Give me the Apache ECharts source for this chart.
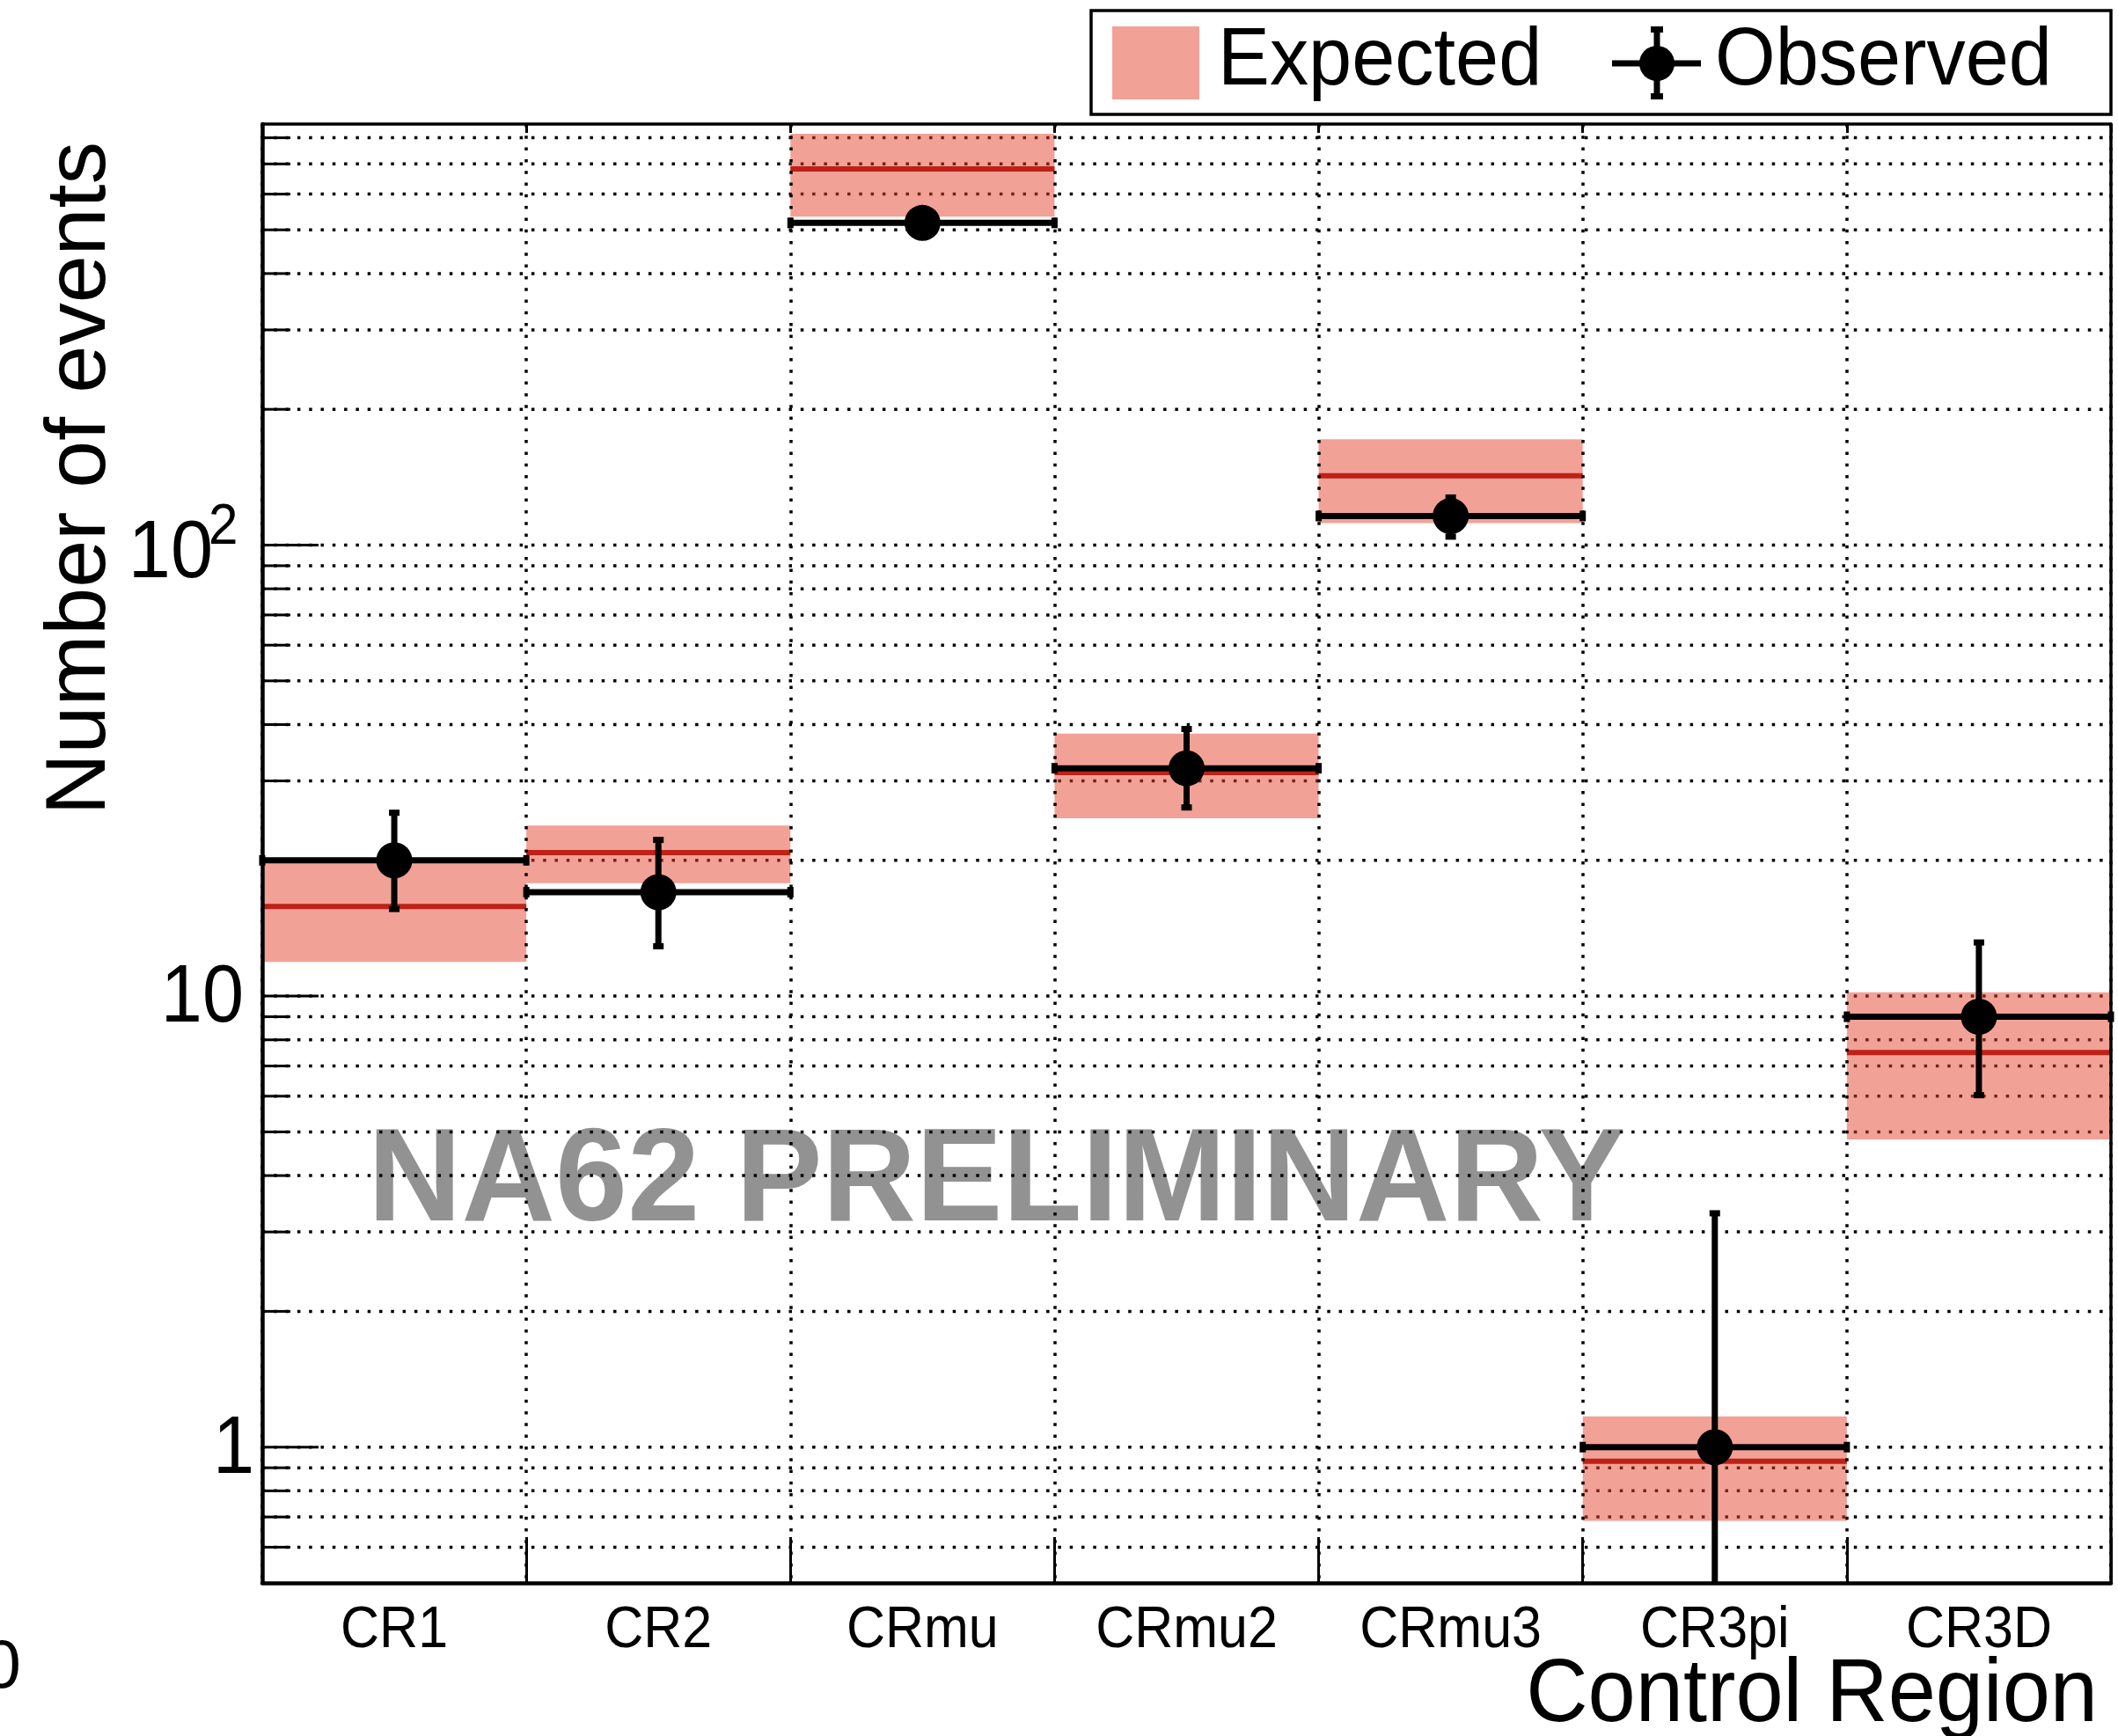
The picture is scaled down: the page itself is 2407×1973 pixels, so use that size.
<!DOCTYPE html>
<html>
<head>
<meta charset="utf-8">
<title>Control regions: expected vs observed</title>
<script src="https://cdn.jsdelivr.net/npm/echarts@6/dist/echarts.min.js"></script>
<style>
  html, body { margin: 0; padding: 0; background: #ffffff; }
  #chart { width: 2407px; height: 1973px; }
</style>
</head>
<body>
<div id="chart"></div>
<script>
// ---- data ----
const categories = ['CR1', 'CR2', 'CRmu', 'CRmu2', 'CRmu3', 'CR3pi', 'CR3D'];

// expected yield (central value) and its uncertainty band
const expected     = [15.8, 20.8, 682, 31.3, 142.5, 0.93, 7.5];
const expectedLow  = [11.9, 17.8, 535, 24.8, 111.9, 0.686, 4.81];
const expectedHigh = [20.1, 23.9, 817, 38.2, 171.7, 1.17, 10.2];

// observed counts with their (Poisson) error bars
const observed     = [20, 17, 518, 32, 116, 1, 9];
const observedLow  = [15.6, 12.9, 496, 26.2, 104.4, 0.17, 6.03];
const observedHigh = [25.5, 22.2, 541, 39.1, 127.5, 3.3, 13.15];

// log-axis range, grid lines and labelled decades
const yMin = 0.5;
const yMax = 858;
const yGridValues = [0.6, 0.7, 0.8, 0.9, 1, 2, 3, 4, 5, 6, 7, 8, 9,
                     10, 20, 30, 40, 50, 60, 70, 80, 90,
                     100, 200, 300, 400, 500, 600, 700, 800];
const yMajorValues = [1, 10, 100];
const yLabelBase = ['1', '10', '10'];
const yLabelExp  = ['', '', '2'];

// ---- styling ----
const FONT = '"Liberation Sans", Arial, Helvetica, sans-serif';
const BAND_FILL = 'rgba(229,67,47,0.5)';
const LINE_RED = 'rgb(190,33,22)';
const DOT = [3.5, 9.8];

const chart = echarts.init(document.getElementById('chart'), null, {
  renderer: 'canvas', width: 2407, height: 1973
});

function txt(opts) {
  // plain text element; align/verticalAlign given in both naming styles
  return {
    type: 'text',
    x: opts.x, y: opts.y,
    scaleX: opts.scaleX || 1,
    rotation: opts.rotation || 0,
    z: opts.z === undefined ? 5 : opts.z,
    silent: true,
    style: {
      text: opts.text,
      fill: opts.fill || '#000',
      fontFamily: FONT,
      fontSize: opts.size,
      fontWeight: opts.weight || 'normal',
      align: opts.align || 'left',
      textAlign: opts.align || 'left',
      verticalAlign: 'middle',
      textVerticalAlign: 'middle'
    }
  };
}

// horizontal dotted grid lines plus left-side ticks
function renderGrid(params, api) {
  const cs = params.coordSys;
  const v = api.value(1);
  const y = api.coord([0, v])[1];
  const major = yMajorValues.indexOf(v) >= 0;
  return {
    type: 'group',
    children: [
      { type: 'line', shape: { x1: cs.x, y1: y, x2: cs.x + cs.width, y2: y },
        style: { stroke: '#000', lineWidth: 3.5, lineDash: DOT } },
      { type: 'line', shape: { x1: cs.x, y1: y, x2: cs.x + (major ? 64 : 32), y2: y },
        style: { stroke: '#000', lineWidth: 3 } }
    ]
  };
}

// expected band with its central line
function renderBand(params, api) {
  const cs = params.coordSys;
  const bw = cs.width / categories.length;
  const i = api.value(0);
  const pc = api.coord([i, api.value(1)]);
  const yHi = api.coord([i, api.value(2)])[1];
  const yLo = api.coord([i, api.value(3)])[1];
  const x0 = pc[0] - bw / 2, x1 = pc[0] + bw / 2;
  return {
    type: 'group',
    children: [
      { type: 'rect', shape: { x: x0, y: yHi, width: bw, height: yLo - yHi },
        style: { fill: BAND_FILL } },
      { type: 'line', shape: { x1: x0, y1: pc[1], x2: x1, y2: pc[1] },
        style: { stroke: LINE_RED, lineWidth: 6 } }
    ]
  };
}

// observed point: bin-wide horizontal bar, vertical error bar, marker
function renderObserved(params, api) {
  const cs = params.coordSys;
  const bw = cs.width / categories.length;
  const i = api.value(0);
  const p = api.coord([i, api.value(1)]);
  const yUp = api.coord([i, api.value(2)])[1];
  let yDn = api.coord([i, api.value(3)])[1];
  const bottom = cs.y + cs.height;
  const clipped = yDn > bottom;
  if (clipped) yDn = bottom;
  const x0 = p[0] - bw / 2, x1 = p[0] + bw / 2;
  const kids = [
    { type: 'line', shape: { x1: x0, y1: p[1], x2: x1, y2: p[1] },
      style: { stroke: '#000', lineWidth: 7 } },
    { type: 'rect', shape: { x: x0 - 3.5, y: p[1] - 6, width: 7, height: 12 }, style: { fill: '#000' } },
    { type: 'rect', shape: { x: x1 - 3.5, y: p[1] - 6, width: 7, height: 12 }, style: { fill: '#000' } },
    { type: 'line', shape: { x1: p[0], y1: yUp, x2: p[0], y2: yDn },
      style: { stroke: '#000', lineWidth: 7 } },
    { type: 'rect', shape: { x: p[0] - 6, y: yUp - 3.5, width: 12, height: 7 }, style: { fill: '#000' } }
  ];
  if (!clipped) {
    kids.push({ type: 'rect', shape: { x: p[0] - 6, y: yDn - 3.5, width: 12, height: 7 }, style: { fill: '#000' } });
  }
  kids.push({ type: 'circle', shape: { cx: p[0], cy: p[1], r: 20.5 }, style: { fill: '#000' } });
  return { type: 'group', children: kids };
}

// category names under each bin
function renderXLabel(params, api) {
  const cs = params.coordSys;
  const i = api.value(0);
  const x = api.coord([i, 1])[0];
  return txt({ text: categories[i], x: x, y: cs.y + cs.height + 55, size: 67, scaleX: 0.91, align: 'center' });
}

// decade labels on the log axis
function renderYLabel(params, api) {
  const cs = params.coordSys;
  const k = params.dataIndex;
  const y = api.coord([0, api.value(1)])[1];
  const base = yLabelBase[k], exp = yLabelExp[k];
  if (exp) {
    return {
      type: 'group',
      children: [
        txt({ text: base, x: cs.x - 56, y: y + 11.5, size: 92, scaleX: 0.94, align: 'right' }),
        txt({ text: exp, x: cs.x - 61, y: y - 19.5, size: 64, scaleX: 0.94, align: 'left' })
      ]
    };
  }
  const pad = base === '1' ? 12 : 0;
  return txt({ text: base, x: cs.x - 21 + pad, y: y + 4, size: 92, scaleX: 0.92, align: 'right' });
}

const hiddenAxisBits = {
  axisLabel: { show: false },
  splitLine: { show: false },
  minorTick: { show: false },
  minorSplitLine: { show: false }
};

const option = {
  backgroundColor: '#ffffff',
  animation: false,
  tooltip: { show: false },
  grid: {
    left: 298, top: 141, right: 8, bottom: 174,
    show: false, containLabel: false, outerBoundsMode: 'none'
  },
  xAxis: [
    {
      type: 'category', data: categories, position: 'bottom', boundaryGap: true, z: 3,
      axisLine: { show: true, onZero: false, lineStyle: { color: '#000', width: 4.5 } },
      axisTick: { show: true, inside: true, length: 52, interval: 0, alignWithLabel: false,
                  lineStyle: { color: '#000', width: 3 } },
      axisLabel: { show: false },
      splitLine: { show: true, interval: 0, lineStyle: { color: '#000', width: 3.5, type: DOT } }
    },
    {
      type: 'category', data: categories, position: 'top', boundaryGap: true, z: 3,
      axisLine: { show: true, onZero: false, lineStyle: { color: '#000', width: 3.5 } },
      axisTick: { show: true, inside: true, length: 10, interval: 0, alignWithLabel: false,
                  lineStyle: { color: '#000', width: 3 } },
      axisLabel: { show: false },
      splitLine: { show: false }
    }
  ],
  yAxis: [
    Object.assign({
      type: 'log', logBase: 10, min: yMin, max: yMax, position: 'left', z: 3,
      axisLine: { show: true, onZero: false, lineStyle: { color: '#000', width: 4.5 } },
      axisTick: { show: false }
    }, hiddenAxisBits),
    Object.assign({
      type: 'log', logBase: 10, min: yMin, max: yMax, position: 'right', z: 3,
      axisLine: { show: true, onZero: false, lineStyle: { color: '#000', width: 3.5 } },
      axisTick: { show: false }
    }, hiddenAxisBits)
  ],
  graphic: {
    elements: [
      // watermark, behind the grid
      txt({ text: 'NA62 PRELIMINARY', x: 418, y: 1345, size: 151, weight: 'bold',
            scaleX: 0.977, fill: 'rgb(146,146,146)', z: 0 }),
      // axis titles
      txt({ text: 'Number of events', x: 92, y: 161, size: 97, align: 'right',
            rotation: Math.PI / 2, z: 10 }),
      txt({ text: 'Control Region', x: 2384, y: 1928, size: 102, scaleX: 0.955, align: 'right', z: 10 }),
      txt({ text: '0', x: 24, y: 1896, size: 78, align: 'right', z: 10 }),
      // legend
      { type: 'rect', z: 20, silent: true, shape: { x: 1240, y: 12, width: 1159, height: 118 },
        style: { fill: '#ffffff', stroke: '#000', lineWidth: 3.5 } },
      { type: 'rect', z: 21, silent: true, shape: { x: 1264, y: 30, width: 99, height: 83 },
        style: { fill: BAND_FILL } },
      txt({ text: 'Expected', x: 1384, y: 71, size: 92, scaleX: 0.96, z: 21 }),
      { type: 'line', z: 21, silent: true, shape: { x1: 1832, y1: 72, x2: 1933, y2: 72 },
        style: { stroke: '#000', lineWidth: 7 } },
      { type: 'line', z: 21, silent: true, shape: { x1: 1883, y1: 33, x2: 1883, y2: 110 },
        style: { stroke: '#000', lineWidth: 7 } },
      { type: 'rect', z: 21, silent: true, shape: { x: 1876, y: 30, width: 14, height: 7 }, style: { fill: '#000' } },
      { type: 'rect', z: 21, silent: true, shape: { x: 1876, y: 106, width: 14, height: 7 }, style: { fill: '#000' } },
      { type: 'circle', z: 21, silent: true, shape: { cx: 1883, cy: 72, r: 20 }, style: { fill: '#000' } },
      txt({ text: 'Observed', x: 1949, y: 71, size: 92, scaleX: 0.96, z: 21 })
    ]
  },
  series: [
    {
      name: 'grid', type: 'custom', silent: true, z: 1,
      xAxisIndex: 0, yAxisIndex: 0, encode: { x: 0, y: 1 },
      data: yGridValues.map(v => [0, v]),
      renderItem: renderGrid
    },
    {
      name: 'Expected', type: 'custom', silent: true, z: 2,
      xAxisIndex: 0, yAxisIndex: 0, encode: { x: 0, y: [1, 2, 3] },
      data: categories.map((c, i) => [i, expected[i], expectedHigh[i], expectedLow[i]]),
      renderItem: renderBand
    },
    {
      name: 'Observed', type: 'custom', silent: true, z: 5,
      xAxisIndex: 0, yAxisIndex: 0, encode: { x: 0, y: [1, 2, 3] },
      data: categories.map((c, i) => [i, observed[i], observedHigh[i], observedLow[i]]),
      renderItem: renderObserved
    },
    {
      name: 'xLabels', type: 'custom', silent: true, z: 5,
      xAxisIndex: 0, yAxisIndex: 0, encode: { x: 0, y: 1 },
      data: categories.map((c, i) => [i, 1]),
      renderItem: renderXLabel
    },
    {
      name: 'yLabels', type: 'custom', silent: true, z: 5,
      xAxisIndex: 0, yAxisIndex: 0, encode: { x: 0, y: 1 },
      data: yMajorValues.map(v => [0, v]),
      renderItem: renderYLabel
    }
  ]
};

chart.setOption(option);
</script>
</body>
</html>
